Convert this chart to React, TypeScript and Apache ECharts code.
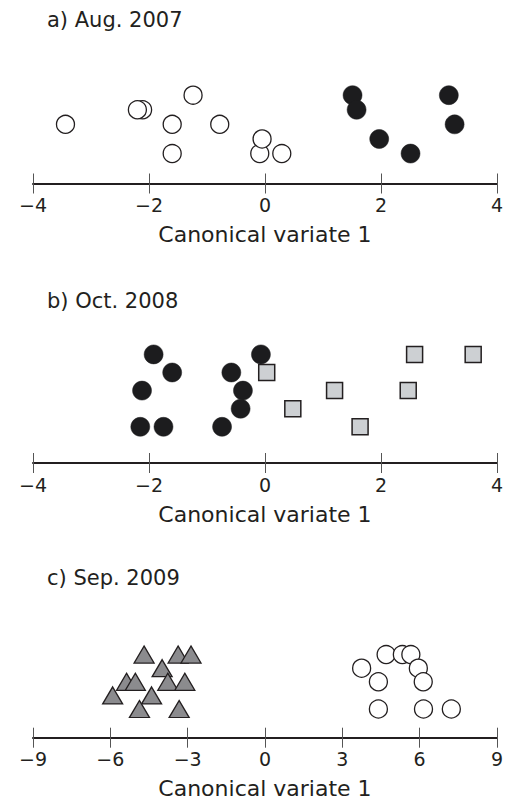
import React, { useEffect, useRef } from "react";
import * as echarts from "echarts";

// Panel a) Aug. 2007
const aOpenX = [-3.44, -2.11, -2.2, -1.24, -1.6, -1.6, -0.78, -0.09, -0.05, 0.29];
const aOpenY = [2, 3, 3, 4, 2, 0, 2, 0, 1, 0];
const aFilledX = [1.51, 1.58, 1.97, 2.51, 3.17, 3.27];
const aFilledY = [4, 3, 1, 0, 4, 2];

// Panel b) Oct. 2008
const bFilledX = [-1.92, -1.6, -2.12, -2.15, -1.75, -0.07, -0.58, -0.38, -0.42, -0.74];
const bFilledY = [4, 3, 2, 0, 0, 4, 3, 2, 1, 0];
const bSquareX = [0.03, 0.48, 1.2, 1.64, 2.58, 2.47, 3.59];
const bSquareY = [3, 1, 2, 0, 4, 2, 4];

// Panel c) Sep. 2009
const cTriX = [-4.69, -3.37, -2.87, -3.99, -5.37, -5.03, -3.77, -3.11, -5.91, -4.4, -4.87, -3.33];
const cTriY = [4, 4, 4, 3, 2, 2, 2, 2, 1, 1, 0, 0];
const cOpenX = [4.7, 5.33, 5.66, 3.75, 5.95, 4.4, 6.14, 4.4, 6.15, 7.23];
const cOpenY = [4, 4, 4, 3, 3, 2, 2, 0, 0, 0];

const titles = ["a) Aug. 2007", "b) Oct. 2008", "c) Sep. 2009"];
const axisName = "Canonical variate 1";
const axisRanges = [
  { min: -4, max: 4, interval: 2 },
  { min: -4, max: 4, interval: 2 },
  { min: -9, max: 9, interval: 3 },
];

const zip = (xs: number[], ys: number[]) => xs.map((x, i) => [x, ys[i]]);

const FONT = "DejaVu Sans";
const INK = "#231f20";

export default function App() {
  const ref = useRef<HTMLDivElement>(null);
  useEffect(() => {
    if (!ref.current) return;
    const chart = echarts.init(ref.current, undefined, { renderer: "svg" });

    const panels = [
      { B: 183.5, yMin: -2.05, yMax: 5, step: 14.6 },
      { B: 463, yMin: -2.0, yMax: 5, step: 18.1 },
      { B: 737.7, yMin: -2.11, yMax: 5, step: 13.6 },
    ];
    const left = 33;
    const width = 466;
    const grids = panels.map((p) => {
      const h = (p.yMax - p.yMin) * p.step;
      return { left, width, top: p.B - h, height: h };
    });

    const xAxes: any[] = [];
    axisRanges.forEach((r, i) => {
      xAxes.push({
        type: "value",
        gridIndex: i,
        min: r.min,
        max: r.max,
        interval: r.interval,
        position: "bottom",
        axisLine: { show: true, onZero: false, lineStyle: { color: INK, width: 2 } },
        axisTick: { show: true, inside: false, length: 10, lineStyle: { color: "#555", width: 1 } },
        axisLabel: {
          show: true,
          margin: 12,
          fontFamily: FONT,
          fontSize: 19,
          color: INK,
          formatter: (v: number) => (v < 0 ? "\u2212" + Math.abs(v) : String(v)),
        },
        splitLine: { show: false },
        name: axisName,
        nameLocation: "middle",
        nameGap: 40,
        nameTextStyle: { fontFamily: FONT, fontSize: 22, color: INK },
      });
      xAxes.push({
        type: "value",
        gridIndex: i,
        min: r.min,
        max: r.max,
        interval: r.interval,
        position: "bottom",
        axisLine: { show: false, onZero: false },
        axisTick: { show: true, inside: true, length: 10, lineStyle: { color: "#555", width: 1 } },
        axisLabel: { show: false },
        splitLine: { show: false },
      });
    });

    const yAxes = panels.map((p, i) => ({
      type: "value",
      gridIndex: i,
      min: p.yMin,
      max: p.yMax,
      show: false,
      splitLine: { show: false },
    }));

    const openCircle = { color: "#ffffff", borderColor: INK, borderWidth: 1.3, opacity: 1 };
    const filledCircle = { color: "#1c1c1e", borderColor: "#1c1c1e", borderWidth: 0.5, opacity: 1 };

    const series: any[] = [
      {
        type: "scatter", xAxisIndex: 0, yAxisIndex: 0, symbol: "circle", symbolSize: 18,
        itemStyle: openCircle, data: zip(aOpenX, aOpenY),
      },
      {
        type: "scatter", xAxisIndex: 0, yAxisIndex: 0, symbol: "circle", symbolSize: 19,
        itemStyle: filledCircle, data: zip(aFilledX, aFilledY),
      },
      {
        type: "scatter", xAxisIndex: 2, yAxisIndex: 1, symbol: "circle", symbolSize: 19,
        itemStyle: filledCircle, data: zip(bFilledX, bFilledY),
      },
      {
        type: "scatter", xAxisIndex: 2, yAxisIndex: 1, symbol: "rect", symbolSize: 16,
        itemStyle: { color: "#cdd0d3", borderColor: INK, borderWidth: 1.5, opacity: 1 },
        data: zip(bSquareX, bSquareY),
      },
      {
        type: "scatter", xAxisIndex: 4, yAxisIndex: 2, symbol: "triangle", symbolSize: [20, 17],
        itemStyle: { color: "#8b8b8e", borderColor: INK, borderWidth: 1.3, opacity: 1 },
        data: zip(cTriX, cTriY),
      },
      {
        type: "scatter", xAxisIndex: 4, yAxisIndex: 2, symbol: "circle", symbolSize: 18,
        itemStyle: openCircle, data: zip(cOpenX, cOpenY),
      },
    ];

    const titleTops = [9, 290, 567];
    const graphic = titles.map((t, i) => ({
      type: "text",
      left: 47,
      top: titleTops[i],
      style: { text: t, fontFamily: FONT, fontSize: 21, fill: INK },
    }));

    chart.setOption({
      animation: false,
      backgroundColor: "#ffffff",
      grid: grids,
      xAxis: xAxes,
      yAxis: yAxes,
      series,
      graphic,
    });
    return () => chart.dispose();
  }, []);
  return (
    <div
      ref={ref}
      style={{ position: "fixed", left: 0, top: 0, width: 506, height: 807, background: "#fff" }}
    />
  );
}
